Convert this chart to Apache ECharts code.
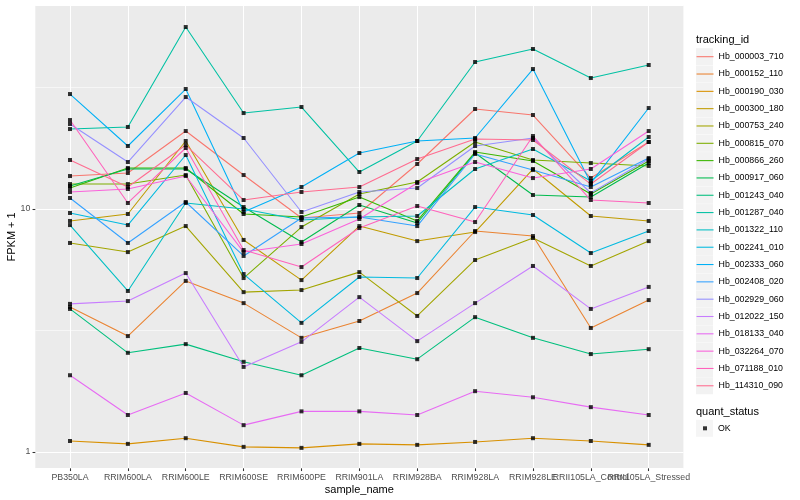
<!DOCTYPE html>
<html><head><meta charset="utf-8">
<script src="https://cdn.jsdelivr.net/npm/echarts@6/dist/echarts.min.js"></script>
<style>html,body{margin:0;padding:0;background:#fff}#chart{width:800px;height:500px}</style>
</head><body><div id="chart"></div>
<script>
const categories = ['PB350LA','RRIM600LA','RRIM600LE','RRIM600SE','RRIM600PE','RRIM901LA','RRIM928BA','RRIM928LA','RRIM928LE','RRII105LA_Control','RRII105LA_Stressed'];
const yMajorBreaks = [1, 10];
const yMinorBreaks = [3.1623, 31.623];

const hb_000003_710 = [13.67,14.07,20.94,13.80,9.18,9.63,15.32,25.80,24.37,13.41,18.87];
const hb_000152_110 = [3.95,3.00,5.06,4.10,2.95,3.46,4.51,8.12,7.74,3.24,4.22];
const hb_000190_030 = [1.11,1.08,1.14,1.05,1.04,1.08,1.07,1.10,1.14,1.11,1.07];
const hb_000300_180 = [8.93,9.54,19.05,7.46,5.10,8.51,7.38,8.04,14.61,9.36,8.93];
const hb_000753_240 = [7.25,6.65,8.51,4.55,4.64,5.50,3.63,6.17,7.60,5.83,7.38];
const hb_000815_070 = [12.67,12.67,13.80,5.20,8.43,11.53,12.92,18.87,15.91,15.46,15.03];
const hb_000866_260 = [12.20,14.75,14.75,9.54,9.27,11.20,8.93,17.16,15.76,11.53,15.76];
const hb_000917_060 = [12.44,14.61,14.61,10.19,7.32,10.39,8.76,17.00,11.42,11.20,15.46];
const hb_001243_040 = [3.88,2.56,2.78,2.35,2.07,2.68,2.41,3.59,2.95,2.53,2.65];
const hb_001287_040 = [21.34,21.75,56.10,24.83,26.29,14.20,19.05,40.27,45.55,34.60,39.15];
const hb_001322_110 = [8.59,4.60,10.59,10.00,9.01,9.27,9.36,14.61,17.66,13.04,19.79];
const hb_002241_010 = [9.63,8.59,16.68,5.40,3.40,5.25,5.20,10.19,9.45,6.59,8.12];
const hb_002333_060 = [29.73,18.17,31.18,9.72,12.32,17.00,19.05,19.60,37.68,12.79,26.04];
const hb_002408_020 = [11.10,7.25,10.69,6.41,9.18,9.27,8.51,16.84,14.47,12.32,16.21];
const hb_002929_060 = [22.38,15.61,28.90,19.60,9.72,11.75,12.20,18.17,19.60,11.64,16.06];
const hb_012022_150 = [4.07,4.18,5.45,2.24,2.84,4.34,2.86,4.10,5.83,3.88,4.78];
const hb_018133_040 = [2.07,1.42,1.75,1.29,1.47,1.47,1.42,1.78,1.68,1.53,1.42];
const hb_032264_070 = [11.75,12.09,13.67,6.65,7.18,9.10,12.79,15.61,13.41,14.61,20.94];
const hb_071188_010 = [23.24,10.59,17.83,6.78,5.77,8.35,10.29,8.84,19.97,10.89,10.59];
const hb_114310_090 = [15.91,12.32,18.34,10.89,11.75,12.32,16.06,19.41,19.23,12.67,18.87];

const seriesNames = ['Hb_000003_710','Hb_000152_110','Hb_000190_030','Hb_000300_180','Hb_000753_240','Hb_000815_070','Hb_000866_260','Hb_000917_060','Hb_001243_040','Hb_001287_040','Hb_001322_110','Hb_002241_010','Hb_002333_060','Hb_002408_020','Hb_002929_060','Hb_012022_150','Hb_018133_040','Hb_032264_070','Hb_071188_010','Hb_114310_090'];
const seriesValues = [hb_000003_710,hb_000152_110,hb_000190_030,hb_000300_180,hb_000753_240,hb_000815_070,hb_000866_260,hb_000917_060,hb_001243_040,hb_001287_040,hb_001322_110,hb_002241_010,hb_002333_060,hb_002408_020,hb_002929_060,hb_012022_150,hb_018133_040,hb_032264_070,hb_071188_010,hb_114310_090];
const palette = ['#F8766D','#EA8331','#D89000','#C09B00','#A3A500','#7CAE00','#39B600','#00BB4E','#00BF7D','#00C1A3','#00BFC4','#00BAE0','#00B0F6','#35A2FF','#9590FF','#C77CFF','#E76BF3','#FA62DB','#FF62BC','#FF6C90'];
const statusName = 'OK';

const FONT = '"Liberation Sans", Arial, Helvetica, sans-serif';
const yMin = 0.857, yMax = 68.8;
const PANEL = {left: 35.3, right: 116.6, top: 5.5, bottom: 31.7};
const DATAGRID = {left: 70, right: 151.3, top: 5.5, bottom: 31.7};

const chart = echarts.init(document.getElementById('chart'), null, {renderer: 'canvas'});

const lineSeries = seriesNames.map((name, k) => ({
  name: name, type: 'line', xAxisIndex: 1, yAxisIndex: 1,
  data: seriesValues[k], symbol: 'none', silent: true, animation: false, z: 3,
  lineStyle: {width: 1.07, color: palette[k]}, itemStyle: {color: palette[k]}
}));
const okPoints = [];
seriesValues.forEach(vals => vals.forEach((v, i) => okPoints.push([categories[i], v])));

const legendCommon = {orient: 'vertical', left: 696, itemWidth: 17, itemHeight: 17, selectedMode: false, padding: 0};

chart.setOption({
  animation: false,
  textStyle: {fontFamily: FONT},
  title: [
    {text: 'tracking_id', left: 696, top: 34, padding: 0, textStyle: {fontSize: 11, fontWeight: 'normal', color: '#000', fontFamily: FONT}},
    {text: 'quant_status', left: 696, top: 406, padding: 0, textStyle: {fontSize: 11, fontWeight: 'normal', color: '#000', fontFamily: FONT}}
  ],
  legend: [
    Object.assign({}, legendCommon, {data: seriesNames, top: 48.2, itemGap: 0.32, icon: 'rect', z: 1,
      itemStyle: {color: '#F2F2F2'}, textStyle: {fontSize: 8.8, color: 'rgba(0,0,0,0)', fontFamily: FONT}}),
    Object.assign({}, legendCommon, {data: seriesNames, top: 49.9, itemGap: 3.72, z: 2,
      itemStyle: {opacity: 0}, lineStyle: {width: 1.07},
      textStyle: {fontSize: 8.8, color: '#000', fontFamily: FONT}}),
    Object.assign({}, legendCommon, {data: [statusName], top: 419.8, itemGap: 0.32, icon: 'rect', z: 1,
      itemStyle: {color: '#F2F2F2'}, textStyle: {fontSize: 8.8, color: '#000', fontFamily: FONT}}),
    {data: [statusName], orient: 'vertical', left: 703, top: 426.3, itemWidth: 4, itemHeight: 4, icon: 'rect', padding: 0,
      selectedMode: false, z: 3, formatter: () => '', itemStyle: {color: '#000'}}
  ],
  grid: [
    Object.assign({show: true, backgroundColor: '#EBEBEB', borderWidth: 0, containLabel: false, outerBoundsMode: 'none'}, PANEL),
    Object.assign({show: false, containLabel: false, outerBoundsMode: 'none'}, DATAGRID)
  ],
  xAxis: [
    {gridIndex: 0, type: 'value', min: 0, max: 1, show: false},
    {gridIndex: 1, type: 'category', data: categories, boundaryGap: false,
      axisLine: {show: false},
      axisTick: {show: true, length: 2.75, lineStyle: {color: '#333333', width: 1.07}},
      axisLabel: {interval: 0, color: '#4D4D4D', fontSize: 8.8, margin: 5, fontFamily: FONT, hideOverlap: false},
      splitLine: {show: true, lineStyle: {color: '#FFFFFF', width: 1.07}},
      name: 'sample_name', nameLocation: 'middle', nameGap: 16, nameMoveOverlap: false,
      nameTextStyle: {fontSize: 11, color: '#000', fontFamily: FONT}}
  ],
  yAxis: [
    {gridIndex: 0, type: 'log', logBase: 10, min: yMin, max: yMax,
      axisLine: {show: false},
      axisTick: {show: true, length: 2.75, lineStyle: {color: '#333333', width: 1.07}},
      axisLabel: {color: '#4D4D4D', fontSize: 8.8, margin: 5, showMinLabel: false, showMaxLabel: false, fontFamily: FONT,
        formatter: v => (yMajorBreaks.indexOf(Math.round(v * 1000) / 1000) >= 0 ? String(Math.round(v)) : '')},
      splitLine: {show: true, lineStyle: {color: '#FFFFFF', width: 1.07}},
      name: 'FPKM + 1', nameLocation: 'middle', nameGap: 18, nameMoveOverlap: false,
      nameTextStyle: {fontSize: 11, color: '#000', fontFamily: FONT}},
    {gridIndex: 1, type: 'log', logBase: 10, min: yMin, max: yMax, show: false},
    {gridIndex: 0, type: 'log', logBase: 10, min: yMin * yMinorBreaks[0], max: yMax * yMinorBreaks[0],
      axisLine: {show: false}, axisTick: {show: false}, axisLabel: {show: false},
      splitLine: {show: true, lineStyle: {color: '#FFFFFF', width: 0.55}}}
  ],
  series: lineSeries.concat([{
    name: statusName, type: 'scatter', xAxisIndex: 1, yAxisIndex: 1, data: okPoints,
    symbol: 'rect', symbolSize: 4, itemStyle: {color: '#000000'}, silent: true, z: 4
  }])
});
</script></body></html>
